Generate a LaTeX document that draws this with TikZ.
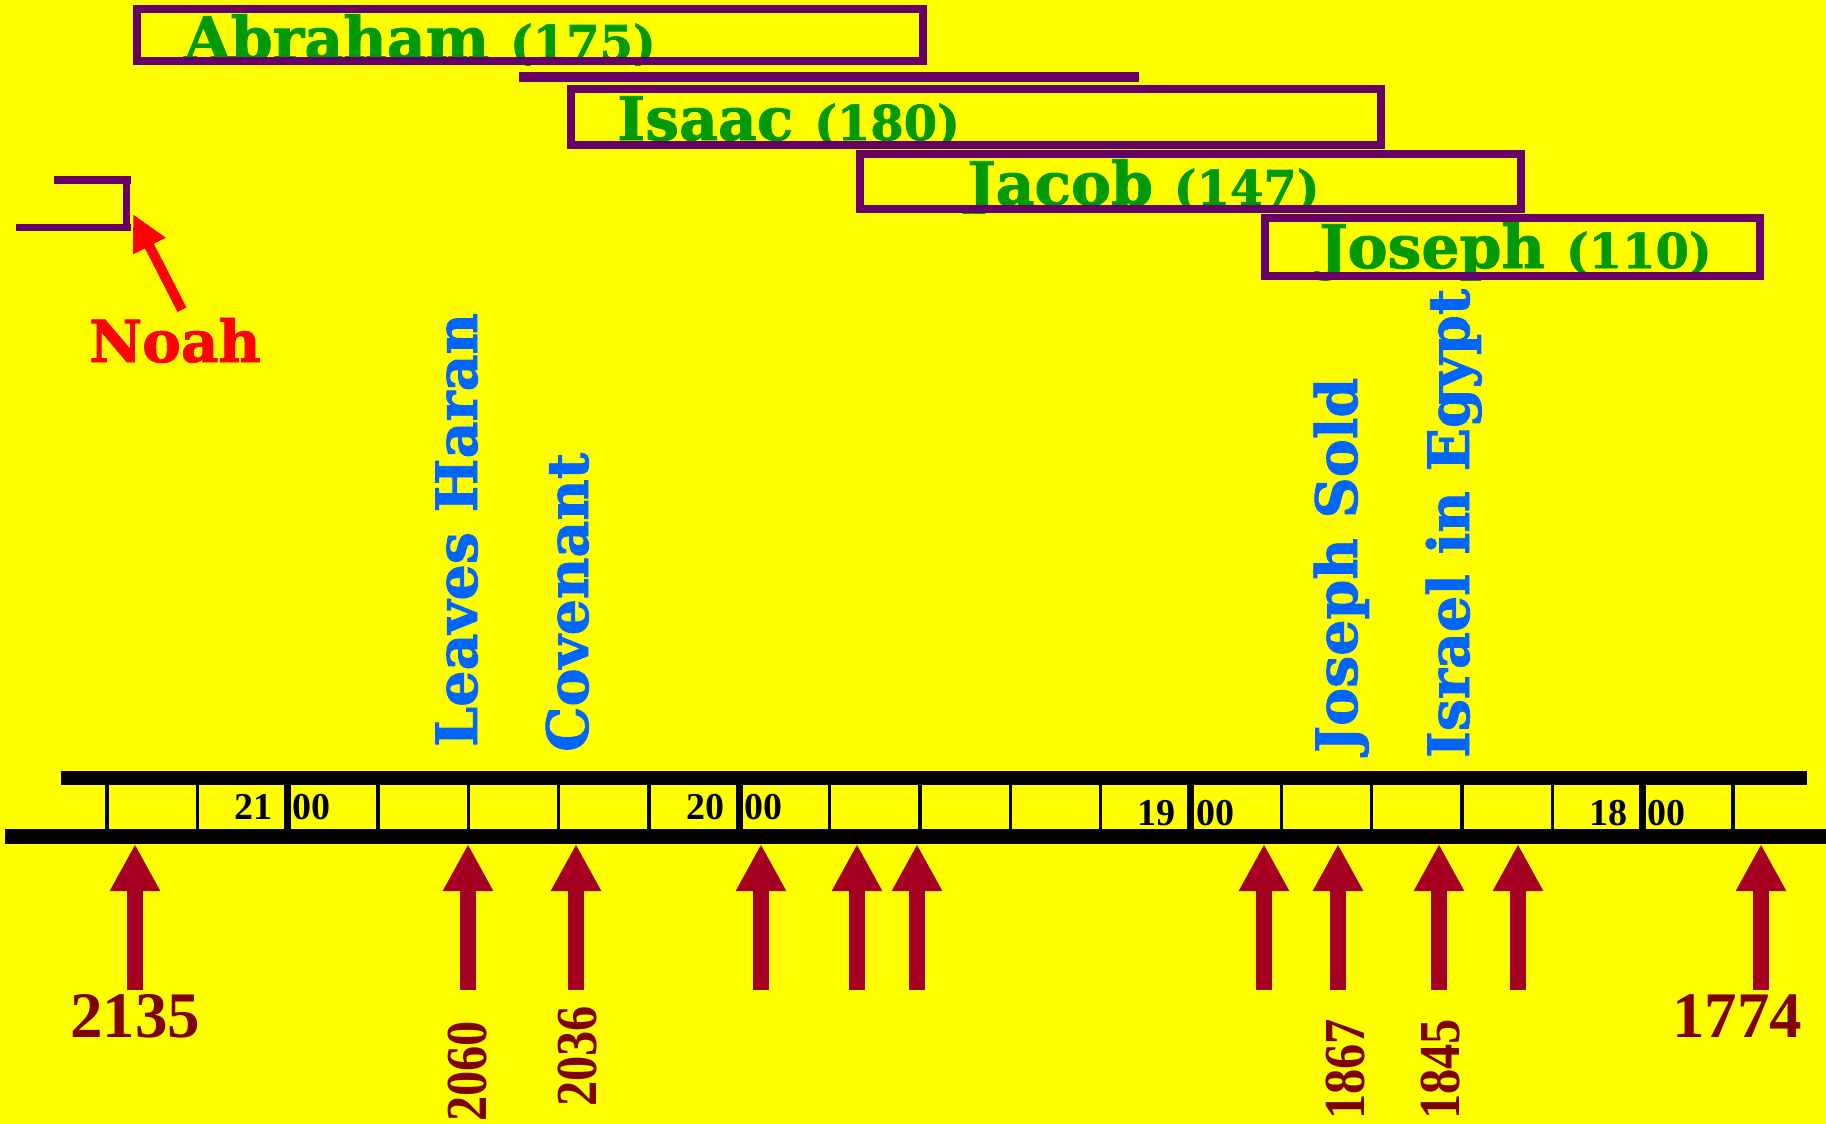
\documentclass[tikz,border=0pt]{standalone}
\usepackage{fontspec}
\setmainfont{DejaVu Serif}[BoldFeatures={FakeBold=1.5}]
\newfontfamily\numfont{Liberation Serif}
\newfontfamily\numcond{Liberation Serif}[FakeStretch=0.87]
\usetikzlibrary{arrows.meta,positioning}

\definecolor{bgyellow}{RGB}{255,255,0}
\definecolor{lifepurple}{RGB}{102,0,102}
\definecolor{namegreen}{RGB}{0,153,0}
\definecolor{eventblue}{RGB}{0,102,255}
\definecolor{arrowred}{RGB}{165,0,33}
\definecolor{yeardark}{RGB}{128,0,0}

\tikzset{
  lifebox/.style={fill=bgyellow,inner sep=0pt},
  lifeline/.style={draw=lifepurple,line width=8pt},
  lifename/.style={anchor=base west,inner sep=0pt,text=namegreen,
    font=\bfseries\fontsize{60}{60}\selectfont},
  event/.style={rotate=90,anchor=base west,inner sep=0pt,text=eventblue,
    font=\bfseries\fontsize{57}{57}\selectfont},
  cent/.style={inner sep=0pt,font=\numfont\bfseries\fontsize{38}{38}\selectfont},
  yearh/.style={anchor=base,inner sep=0pt,text=yeardark,
    font=\numfont\bfseries\fontsize{65}{65}\selectfont},
  yearv/.style={rotate=90,anchor=base west,inner sep=0pt,text=yeardark,
    font=\numcond\bfseries\fontsize{58}{58}\selectfont},
  datearrow/.style={draw=arrowred,line width=16pt,-{Triangle[width=47pt,length=47pt]}},
}

\newcommand{\agenum}[1]{{\fontsize{48}{48}\selectfont(#1)}}

% box, its name inside (clipped), then the frame on top
\newcommand{\lifespan}[6]{%
  \node[lifebox,minimum width=#3pt,minimum height=#4pt] (#1) at (#2) {};
  \begin{scope}
    \clip ([shift={(-4pt,-4pt)}]#1.south west) rectangle ([shift={(4pt,4pt)}]#1.north east);
    \node[lifename] (#1txt) at (#5) {#6};
  \end{scope}
  \draw[lifeline] (#1.south west) rectangle (#1.north east);
}

\begin{document}
\begin{tikzpicture}[x=1pt,y=-1pt]

\fill[bgyellow] (0,0) rectangle (1826,1124);
\useasboundingbox (0,0) rectangle (1826,1124);

% life spans
\lifespan{abraham}{530,35}{786}{52}{184,60}{Abraham \agenum{175}}
\node[fill=lifepurple,inner sep=0pt,minimum width=620pt,minimum height=10pt] (abrbar) at (829,77) {};
\lifespan{isaac}{976,117}{810}{56}{617,140}{Isaac \agenum{180}}
\lifespan{jacob}{1190.5,181.5}{661}{55}{967,205}{Jacob \agenum{147}}
\lifespan{joseph}{1512.5,247}{495}{58}{1319,268}{Joseph \agenum{110}}

% Noah
\draw[lifepurple,line width=7.5pt] (54,180) -- (131,180);
\draw[lifepurple,line width=7pt] (126,176) -- (126,231);
\draw[lifepurple,line width=7pt] (16,227.5) -- (131,227.5);
\node[anchor=base west,inner sep=0pt,text=red,font=\bfseries\fontsize{58}{58}\selectfont] (noah) at (89,362) {Noah};
\coordinate (noahtip) at (133,214);
\draw[red,line width=10pt,-{Triangle[width=34pt,length=36pt]}] ([xshift=7pt,yshift=8pt]noah.north) -- (noahtip);

% events
\node[event] (haran) at (477,747) {Leaves Haran};
\node[event] (covenant) at (588,752) {Covenant};
\node[event] (sold) at (1357,753) {Joseph Sold};
\node[event] (egypt) at (1469,758) {Israel in Egypt};

% time line
\foreach \k in {0,...,18}
  \draw[line width=3.5pt] ({107+90.33*\k},776) -- ({107+90.33*\k},838);
\foreach \k in {2,7,12,17}
  \draw[line width=7pt] ({107+90.33*\k},776) -- ({107+90.33*\k},838);
\fill (61,771) rectangle (1807,785);
\fill (5,829) rectangle (1826,844);

\foreach \k/\c/\yb in {2/21/819,7/20/819,12/19/825,17/18/825} {
  \node[cent,anchor=base east] (c\c) at ({107+90.33*\k-15},\yb) {\c};
  \node[cent,anchor=base west] (z\c) at ({107+90.33*\k+5},\yb) {00};
}

% dates
\foreach \i/\x in {1/135,2/468,3/576,4/761,5/857,6/917,7/1264,8/1338,9/1439,10/1518,11/1761} {
  \coordinate (b\i) at (\x,990);
  \coordinate (t\i) at (\x,844);
  \draw[datearrow] (b\i) -- (t\i);
}

\node[yearh] (y2135) at (135,1037) {2135};
\node[yearh] (y1774) at (1737,1037) {1774};
\node[yearv] (y2060) at (486,1122) {2060};
\node[yearv] (y2036) at (596,1107) {2036};
\node[yearv] (y1867) at (1364,1120) {1867};
\node[yearv] (y1845) at (1459,1120) {1845};

\end{tikzpicture}
\end{document}
